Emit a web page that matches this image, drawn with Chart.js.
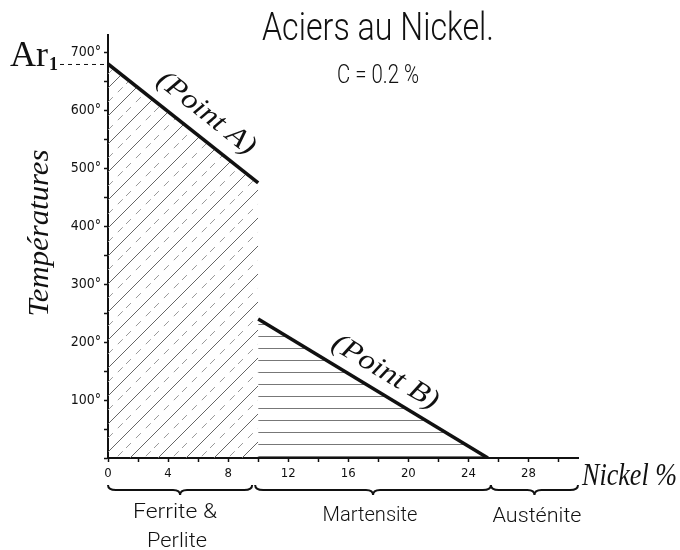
<!DOCTYPE html>
<html><head><meta charset="utf-8">
<script src="https://cdn.jsdelivr.net/npm/chart.js@4/dist/chart.umd.min.js"></script>
<style>html,body{margin:0;padding:0;background:#fff;}#wrap{width:680px;height:550px;}</style>
</head><body><div id="wrap"><canvas id="c" width="680" height="550"></canvas></div>
<script>
// ---- data ----
const title = 'Aciers au Nickel.';
const subtitle = 'C = 0.2 %';
const yTitle = 'Températures';
const xTitle = 'Nickel %';
const ar1Label = 'Ar';
const ar1Sub = '1';
const ar1Value = 680;
const pointA = [{x: 0, y: 680}, {x: 10, y: 475}];
const pointB = [{x: 10, y: 240}, {x: 25.3, y: 0}];
const pointALabel = '(Point A)';
const pointBLabel = '(Point B)';
const xMax = 31.3;
const yMax = 730;
const xTickStep = 2, xLabelStep = 4;
const yTickStep = 50, yLabelStep = 100;
const zoneNames = [['Ferrite &', 'Perlite'], ['Martensite'], ['Austénite']];
const zoneFrom = [0, 9.8, 25.5];
const zoneTo = [9.6, 25.5, 31.3];

// ---- hatch patterns ----
function diagPattern() {
  const s = 28;
  const c = document.createElement('canvas'); c.width = s; c.height = s;
  const g = c.getContext('2d');
  g.strokeStyle = '#666'; g.lineWidth = 1;
  for (const k of [-s, 0, s]) { g.beginPath(); g.moveTo(k, s); g.lineTo(k + s, 0); g.stroke(); }
  g.strokeStyle = '#999'; g.setLineDash([7, 7]);
  for (const k of [-s, 0, s]) { g.beginPath(); g.moveTo(k + s / 2, s); g.lineTo(k + s / 2 + s, 0); g.stroke(); }
  return c.getContext('2d').createPattern(c, 'repeat');
}
function horizPattern() {
  const c = document.createElement('canvas'); c.width = 16; c.height = 12;
  const g = c.getContext('2d');
  g.strokeStyle = '#777'; g.lineWidth = 1;
  g.beginPath(); g.moveTo(0, 0.5); g.lineTo(16, 0.5); g.stroke();
  return g.createPattern(c, 'repeat');
}

function fitText(ctx, text, font, x, y, width, angle, align) {
  ctx.save();
  ctx.font = font;
  const w = ctx.measureText(text).width;
  ctx.translate(x, y);
  if (angle) ctx.rotate(angle);
  ctx.scale(width / w, 1);
  ctx.textAlign = align || 'center';
  ctx.fillText(text, 0, 0);
  ctx.restore();
}

function brace(ctx, x1, x2, y) {
  const mid = (x1 + x2) / 2;
  ctx.beginPath();
  ctx.moveTo(x1, y - 5);
  ctx.quadraticCurveTo(x1, y, x1 + 8, y);
  ctx.lineTo(mid - 7, y);
  ctx.quadraticCurveTo(mid, y, mid, y + 5);
  ctx.quadraticCurveTo(mid, y, mid + 7, y);
  ctx.lineTo(x2 - 8, y);
  ctx.quadraticCurveTo(x2, y, x2, y - 5);
  ctx.stroke();
}

const decor = {
  id: 'decor',
  afterDraw(chart) {
    const ctx = chart.ctx;
    const xs = chart.scales.x, ys = chart.scales.y;
    const area = chart.chartArea;
    ctx.save();
    ctx.fillStyle = '#111'; ctx.strokeStyle = '#111';
    ctx.textBaseline = 'alphabetic';
    const light = 'Roboto, "DejaVu Sans Condensed", sans-serif';
    // titles
    fitText(ctx, title, '300 38px ' + light, 378, 40, 232);
    fitText(ctx, subtitle, '300 25px ' + light, 378, 83, 82);
    // Ar1
    const yAr = ys.getPixelForValue(ar1Value);
    ctx.font = '36px "Liberation Serif", serif';
    ctx.textAlign = 'left';
    ctx.fillText(ar1Label, 10, yAr + 2);
    const wAr = ctx.measureText(ar1Label).width;
    ctx.font = 'bold 18px "Liberation Serif", serif';
    ctx.fillText(ar1Sub, 10 + wAr + 1, yAr + 6);
    ctx.save();
    ctx.lineWidth = 1; ctx.setLineDash([4, 4]);
    ctx.beginPath(); ctx.moveTo(60, yAr + 0.5); ctx.lineTo(area.left, yAr + 0.5); ctx.stroke();
    ctx.restore();
    // y title
    fitText(ctx, yTitle, 'italic 29px "Liberation Serif", serif', 48, 233, 167, -Math.PI / 2);
    // x title
    fitText(ctx, xTitle, 'italic 31px "Liberation Serif", serif', 582, 485, 95, 0, 'left');
    // point labels along lines
    function lineLabel(pts, text, off, along, width) {
      const x1 = xs.getPixelForValue(pts[0].x), y1 = ys.getPixelForValue(pts[0].y);
      const x2 = xs.getPixelForValue(pts[1].x), y2 = ys.getPixelForValue(pts[1].y);
      const len = Math.hypot(x2 - x1, y2 - y1);
      const dx = (x2 - x1) / len, dy = (y2 - y1) / len;
      const nx = dy, ny = -dx;
      const cx = (x1 + x2) / 2 + nx * off + dx * along;
      const cy = (y1 + y2) / 2 + ny * off + dy * along;
      ctx.textBaseline = 'middle';
      fitText(ctx, text, 'italic 28px "Liberation Serif", serif', cx, cy, width, Math.atan2(dy, dx));
      ctx.textBaseline = 'alphabetic';
    }
    lineLabel(pointA, pointALabel, 22, 12, 118);
    lineLabel(pointB, pointBLabel, 20, 2, 120);
    // braces and zone names
    ctx.lineWidth = 2;
    const yB = 490;
    for (let i = 0; i < zoneNames.length; i++) {
      const a = xs.getPixelForValue(zoneFrom[i]), b = xs.getPixelForValue(zoneTo[i]);
      brace(ctx, a, b, yB);
    }
    const zf = '300 20px ' + light;
    fitText(ctx, zoneNames[0][0], zf, 175, 518, 84);
    fitText(ctx, zoneNames[0][1], zf, 177, 547, 60);
    fitText(ctx, zoneNames[1][0], zf, 370, 521, 95);
    fitText(ctx, zoneNames[2][0], zf, 537, 522, 89);
    ctx.restore();
  }
};

new Chart(document.getElementById('c'), {
  type: 'scatter',
  data: {
    datasets: [
      { data: pointA, showLine: true, borderColor: '#111', borderWidth: 3.5, pointRadius: 0,
        fill: 'origin', backgroundColor: diagPattern() },
      { data: pointB, showLine: true, borderColor: '#111', borderWidth: 3.5, pointRadius: 0,
        fill: 'origin', backgroundColor: horizPattern() }
    ]
  },
  options: {
    responsive: false, animation: false, devicePixelRatio: 1,
    layout: { padding: { left: 0, top: 35, right: 102, bottom: 0 } },
    plugins: { legend: { display: false }, tooltip: { enabled: false }, title: { display: false } },
    scales: {
      x: {
        type: 'linear', min: 0, max: xMax,
        afterFit(s) { s.height = 92; },
        ticks: { stepSize: xTickStep, includeBounds: false, autoSkip: false, maxRotation: 0, padding: 4,
          color: '#111', font: { family: '"DejaVu Sans Condensed", sans-serif', size: 13 },
          callback: v => (v % xLabelStep === 0 ? String(v) : '') },
        grid: { drawOnChartArea: false, drawTicks: true, tickLength: 4, color: '#111', tickWidth: 1.5 },
        border: { display: true, color: '#111', width: 2 }
      },
      y: {
        type: 'linear', min: 0, max: yMax,
        afterFit(s) { s.width = 108; },
        ticks: { stepSize: yTickStep, includeBounds: false, autoSkip: false, padding: 3,
          color: '#111', font: { family: '"DejaVu Sans Condensed", sans-serif', size: 14 },
          callback: v => (v % yLabelStep === 0 && v > 0 ? v + '°' : '') },
        grid: { drawOnChartArea: false, drawTicks: true, tickLength: 4, color: '#111', tickWidth: 1.5 },
        border: { display: true, color: '#111', width: 2 }
      }
    }
  },
  plugins: [decor]
});
</script></body></html>
